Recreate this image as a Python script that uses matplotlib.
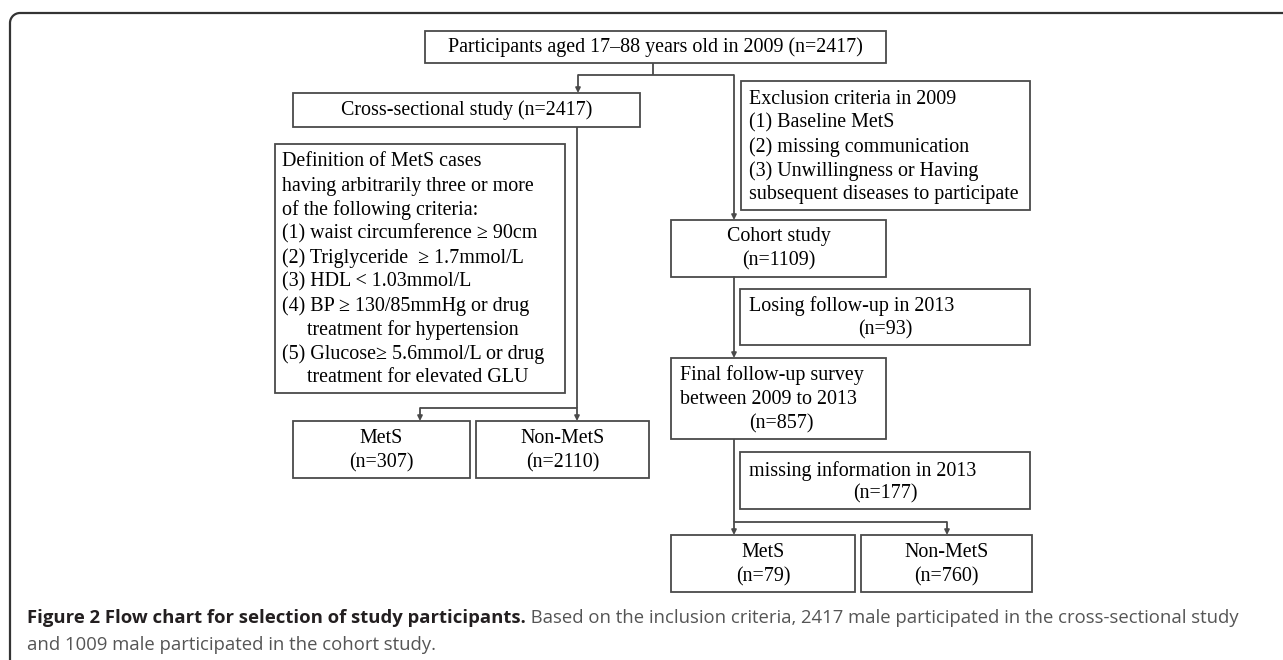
import matplotlib

matplotlib.use("Agg")
import matplotlib.pyplot as plt
from matplotlib.patches import Rectangle, Arc

# --- chart content -----------------------------------------------------------
TOP_TEXT = ["Participants aged 17\u201388 years old in 2009 (n=2417)"]
CROSS_TEXT = ["Cross-sectional study (n=2417)"]
DEF_TEXT = ["Definition of MetS cases",
            "having arbitrarily three or more",
            "of the following criteria:",
            "(1) waist circumference \u2265 90cm",
            "(2) Triglyceride  \u2265 1.7mmol/L",
            "(3) HDL < 1.03mmol/L",
            "(4) BP \u2265 130/85mmHg or drug",
            "     treatment for hypertension",
            "(5) Glucose\u2265 5.6mmol/L or drug",
            "     treatment for elevated GLU"]
EXCL_TEXT = ["Exclusion criteria in 2009",
             "(1) Baseline MetS",
             "(2) missing communication",
             "(3) Unwillingness or Having",
             "subsequent diseases to participate"]
COHORT_N, LOST_N, FINAL_N, MISSING_N = 1109, 93, 857, 177
CROSS_METS_N, CROSS_NON_N = 307, 2110
COHORT_METS_N, COHORT_NON_N = 79, 760

CAP_BOLD = "Figure 2 Flow chart for selection of study participants."
CAP_REST = " Based on the inclusion criteria, 2417 male participated in the cross-sectional study"
CAP_LINE2 = "and 1009 male participated in the cohort study."

# --- layout (pixel coords, y down) ---------------------------------------------
W, H = 1283, 660
BOX = {
    "top": (425, 31, 886, 63),
    "cross": (293, 93, 640, 127),
    "def": (275, 144, 565, 393),
    "mets_l": (293, 421, 470, 478),
    "non_l": (476, 421, 649, 478),
    "excl": (741, 81, 1030, 210),
    "cohort": (671, 220, 886, 277),
    "lost": (740, 289, 1030, 345),
    "final": (671, 358, 886, 439),
    "missing": (740, 452, 1030, 509),
    "mets_r": (671, 535, 855, 592),
    "non_r": (861, 535, 1032, 592),
}
EDGE = "#4a4a4a"
SERIF = "Liberation Serif"
FS = 14.4
LINE = 24

fig = plt.figure(figsize=(W / 100, H / 100), dpi=100)
ax = fig.add_axes([0, 0, 1, 1])
ax.set_xlim(0, W)
ax.set_ylim(H, 0)
ax.axis("off")

# outer frame with rounded top-left corner
R, FL, FT = 10, 10, 13
fc = "#333333"
ax.plot([FL, FL], [FT + R, H + 5], color=fc, lw=1.6, solid_capstyle="butt")
ax.plot([FL + R, W + 5], [FT, FT], color=fc, lw=1.6, solid_capstyle="butt")
ax.add_patch(Arc((FL + R, FT + R), 2 * R, 2 * R, theta1=180, theta2=270,
                 color=fc, lw=1.6))


def box(key):
    x0, y0, x1, y1 = BOX[key]
    ax.add_patch(Rectangle((x0, y0), x1 - x0, y1 - y0, fill=False,
                           ec=EDGE, lw=1.3))


def centered(key, lines, dy=0):
    x0, y0, x1, y1 = BOX[key]
    cx, cy = (x0 + x1) / 2, (y0 + y1) / 2
    n = len(lines)
    for i, s in enumerate(lines):
        y = cy + (i - (n - 1) / 2) * LINE + dy
        ax.text(cx, y, s, ha="center", va="center", fontsize=FS,
                family=SERIF, color="black")


def lefted(lines, x, y_first):
    for i, s in enumerate(lines):
        ax.text(x, y_first + i * LINE, s, ha="left", va="center", fontsize=FS,
                family=SERIF, color="black")


for k in BOX:
    box(k)

centered("top", TOP_TEXT)
centered("cross", CROSS_TEXT)
lefted(DEF_TEXT, 282, 162)
lefted(EXCL_TEXT, 749, 99)
centered("cohort", ["Cohort study", f"(n={COHORT_N})"])
lefted(["Losing follow-up in 2013"], 749, 306)
ax.text(885, 330, f"(n={LOST_N})", ha="center", va="center", fontsize=FS,
        family=SERIF)
lefted(["Final follow-up survey", "between 2009 to 2013"], 680, 375)
ax.text(781, 424, f"(n={FINAL_N})", ha="center", va="center", fontsize=FS,
        family=SERIF)
lefted(["missing information in 2013"], 749, 471)
ax.text(885, 494, f"(n={MISSING_N})", ha="center", va="center", fontsize=FS,
        family=SERIF)
centered("mets_l", ["MetS", f"(n={CROSS_METS_N})"], dy=1)
centered("non_l", ["Non-MetS", f"(n={CROSS_NON_N})"], dy=1)
centered("mets_r", ["MetS", f"(n={COHORT_METS_N})"], dy=1)
centered("non_r", ["Non-MetS", f"(n={COHORT_NON_N})"], dy=1)


# connectors
def seg(x0, y0, x1, y1):
    ax.plot([x0, x1], [y0, y1], color=EDGE, lw=1.3, solid_capstyle="butt")


def arrow(x, y0, y1):
    ax.annotate("", xy=(x, y1), xytext=(x, y0),
                arrowprops=dict(arrowstyle="-|>", color=EDGE, lw=1.3,
                                mutation_scale=7, shrinkA=0, shrinkB=0))


seg(653, 63, 653, 75)
seg(578, 75, 734, 75)
arrow(578, 75, 93)
arrow(734, 75, 220)

seg(577, 127, 577, 408)
seg(420, 408, 577, 408)
arrow(420, 408, 421)
arrow(577, 408, 421)

arrow(734, 277, 358)

seg(734, 439, 734, 522)
seg(734, 522, 947, 522)
arrow(734, 522, 535)
arrow(947, 522, 535)

# caption
CAP_FS = 13.3
t1 = ax.text(27, 618, CAP_BOLD, ha="left", va="center", fontsize=CAP_FS,
             family="Open Sans", fontweight="bold", color="#231f20")
fig.canvas.draw()
bb = t1.get_window_extent()
x_end = ax.transData.inverted().transform((bb.x1, bb.y0))[0]
ax.text(x_end, 618, CAP_REST, ha="left", va="center", fontsize=CAP_FS,
        family="Open Sans", color="#555555")
ax.text(27, 645, CAP_LINE2, ha="left", va="center", fontsize=CAP_FS,
        family="Open Sans", color="#555555")

fig.savefig("out.png", dpi=100)
